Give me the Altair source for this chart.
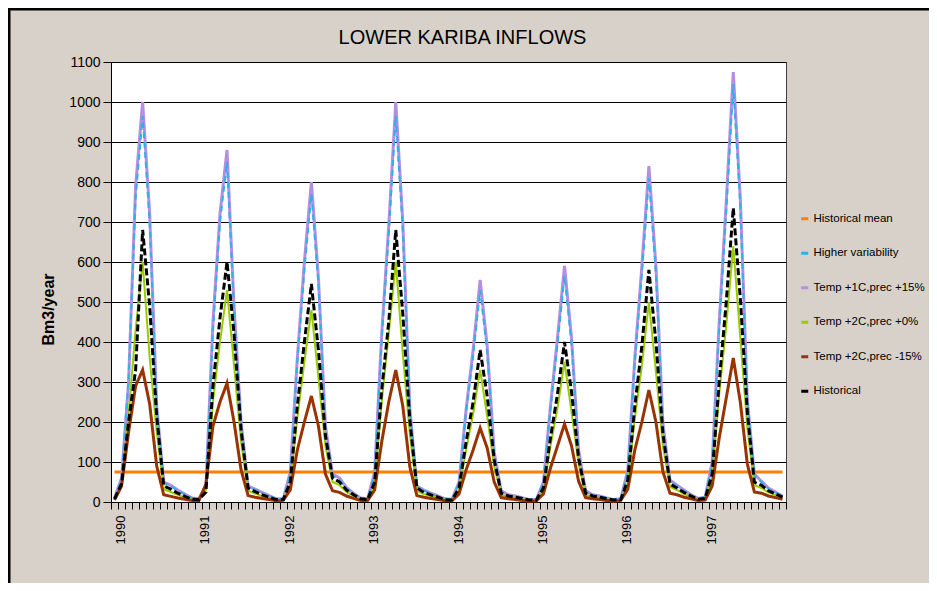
import altair as alt
import pandas as pd

YEARS = ["1990", "1991", "1992", "1993", "1994", "1995", "1996", "1997"]
SERIES = ["Historical mean", "Higher variability", "Temp +1C,prec +15%",
          "Temp +2C,prec +0%", "Temp +2C,prec -15%", "Historical"]
COLORS = ["#ff7f00", "#2fb0ec", "#b48ee0", "#99cc00", "#993300", "#000000"]

HIST_MEAN = 75
MEAN_SPAN = [0, 95]

HISTORICAL = [
    8, 45, 200, 330, 680, 490, 215, 40, 32, 22, 14, 7,
    6, 25, 290, 460, 600, 420, 180, 35, 26, 18, 12, 6,
    6, 50, 240, 400, 545, 380, 165, 60, 50, 30, 18, 8,
    6, 50, 280, 450, 680, 470, 205, 35, 24, 18, 12, 6,
    5, 35, 150, 250, 380, 265, 105, 22, 15, 12, 9, 5,
    5, 35, 160, 270, 400, 275, 110, 22, 15, 12, 8, 5,
    6, 55, 240, 390, 580, 400, 170, 45, 35, 24, 15, 7,
    9, 70, 300, 500, 735, 510, 225, 50, 42, 28, 20, 12,
]
TEMP1_P15 = [
    10, 60, 300, 790, 1000, 720, 240, 50, 42, 30, 20, 10,
    8, 40, 450, 720, 880, 490, 200, 40, 32, 24, 16, 8,
    8, 75, 360, 600, 800, 560, 190, 70, 60, 36, 22, 10,
    8, 75, 420, 690, 1000, 700, 235, 40, 30, 22, 15, 8,
    7, 50, 230, 380, 555, 390, 125, 28, 18, 15, 11, 6,
    7, 50, 240, 410, 590, 410, 130, 28, 18, 15, 10, 6,
    8, 80, 360, 590, 840, 590, 195, 55, 42, 30, 18, 9,
    12, 100, 450, 750, 1075, 760, 255, 70, 52, 35, 25, 15,
]
HIGHER_VAR = [
    10, 58, 310, 760, 965, 700, 235, 48, 40, 28, 19, 10,
    8, 40, 430, 700, 850, 480, 195, 38, 30, 22, 15, 8,
    8, 72, 350, 580, 770, 545, 185, 66, 56, 34, 21, 10,
    8, 72, 405, 670, 965, 680, 230, 38, 28, 21, 14, 8,
    7, 48, 225, 365, 530, 375, 120, 26, 17, 14, 10, 6,
    7, 48, 232, 395, 565, 395, 125, 26, 17, 14, 10, 6,
    8, 76, 350, 570, 810, 570, 190, 52, 40, 28, 17, 9,
    12, 96, 435, 725, 1045, 740, 250, 66, 50, 33, 24, 14,
]
TEMP2_P0 = [
    7, 40, 220, 430, 600, 360, 175, 32, 25, 18, 12, 6,
    6, 30, 250, 400, 530, 340, 150, 28, 21, 15, 10, 5,
    5, 45, 210, 350, 480, 310, 140, 50, 42, 25, 15, 7,
    5, 45, 250, 420, 600, 370, 170, 28, 20, 15, 10, 5,
    4, 30, 130, 220, 330, 215, 90, 18, 13, 10, 7, 4,
    4, 30, 140, 235, 350, 225, 95, 18, 13, 10, 7, 4,
    5, 48, 210, 340, 500, 325, 140, 38, 30, 20, 13, 6,
    8, 60, 270, 440, 640, 410, 185, 42, 35, 24, 17, 10,
]
TEMP2_M15 = [
    5, 40, 175, 290, 330, 245, 90, 18, 14, 10, 7, 4,
    4, 45, 190, 250, 297, 200, 80, 16, 12, 9, 6, 3,
    4, 30, 130, 200, 265, 190, 70, 28, 24, 15, 9, 4,
    4, 30, 150, 250, 330, 240, 88, 16, 12, 9, 6, 3,
    3, 20, 80, 130, 185, 135, 50, 11, 8, 6, 4, 2,
    3, 20, 85, 140, 195, 140, 52, 11, 8, 6, 4, 2,
    4, 32, 130, 200, 280, 200, 75, 22, 18, 12, 8, 4,
    5, 40, 160, 260, 360, 250, 95, 25, 22, 15, 11, 7,
]

rows = []
for name, vals in [(SERIES[1], HIGHER_VAR), (SERIES[2], TEMP1_P15),
                   (SERIES[3], TEMP2_P0), (SERIES[4], TEMP2_M15),
                   (SERIES[5], HISTORICAL)]:
    for i, v in enumerate(vals):
        rows.append({"month": i, "value": v, "series": name})
for m in MEAN_SPAN:
    rows.append({"month": m, "value": HIST_MEAN, "series": SERIES[0]})
df = pd.DataFrame(rows)

n_months = len(HISTORICAL)
FONT = "Liberation Sans"

label_arr = "[" + ",".join("'%s'" % y for y in YEARS) + "]"
x_label_expr = ("(datum.value + 0.5) % 12 == 0 ? " + label_arr +
                "[(datum.value + 0.5) / 12] : ''")

x_enc = alt.X(
    "month:Q",
    scale=alt.Scale(domain=[-0.5, n_months - 0.5], nice=False, zero=False),
    axis=alt.Axis(
        values=[k - 0.5 for k in range(n_months + 1)],
        labelExpr=x_label_expr, labelAngle=270, labelOffset=9.5,
        labelFont=FONT, labelFontSize=13, labelColor="black",
        labelPadding=6, tickSize=7, tickColor="black", domainColor="black",
        grid=False, title=None, labelOverlap=False, labelBound=False,
    ),
)
y_enc = alt.Y(
    "value:Q",
    scale=alt.Scale(domain=[0, 1100], nice=False),
    axis=alt.Axis(
        values=list(range(0, 1101, 100)), format="d", grid=True,
        gridColor="black", gridOpacity=1, gridWidth=1, tickSize=8,
        tickColor="black", domainColor="black", labelFont=FONT,
        labelFontSize=14, labelColor="black", labelPadding=3,
        title="Bm3/year", titleFont=FONT, titleFontSize=16,
        titleFontWeight="bold", titleColor="black", titleX=-58, titleY=247,
        titleAngle=270, titleBaseline="alphabetic", titleAlign="center",
    ),
)
color_enc = alt.Color(
    "series:N",
    scale=alt.Scale(domain=SERIES, range=COLORS),
    legend=alt.Legend(
        title=None, orient="none", legendX=688, legendY=151, padding=0,
        symbolType="stroke", symbolSize=49, symbolStrokeWidth=3,
        symbolDash=[1, 0], labelFont=FONT, labelFontSize=11.5,
        labelColor="black", rowPadding=21.5, labelOffset=3, labelLimit=200,
    ),
)


def series_layer(name, **mark):
    return (alt.Chart(df)
            .transform_filter(alt.datum.series == name)
            .mark_line(**mark)
            .encode(x=x_enc, y=y_enc, color=color_enc))


layers = [
    series_layer(SERIES[0], strokeWidth=3),
    series_layer(SERIES[2], strokeWidth=3),
    series_layer(SERIES[1], strokeWidth=2, strokeDash=[6, 4]),
    series_layer(SERIES[3], strokeWidth=2),
    series_layer(SERIES[4], strokeWidth=3),
    series_layer(SERIES[5], strokeWidth=3, strokeDash=[7, 3]),
]

border_df = pd.DataFrame({"k": [0]})
top_border = alt.Chart(border_df).mark_rule(color="black", strokeWidth=3).encode(
    x=alt.value(-103), x2=alt.value(830), y=alt.value(-53))
left_border = alt.Chart(border_df).mark_rule(color="black", strokeWidth=3).encode(
    x=alt.value(-102), y=alt.value(-54), y2=alt.value(530))

chart = alt.layer(*layers, top_border, left_border).properties(
    width=675, height=440,
    title=alt.TitleParams(
        text="LOWER KARIBA INFLOWS", font=FONT, fontSize=20,
        fontWeight="normal", color="black", anchor="middle", dx=14,
        offset=0, dy=57, baseline="alphabetic",
    ),
    autosize=alt.AutoSizeParams(type="none"),
    padding={"left": 103, "top": 54, "right": 143, "bottom": 81},
    background="#d8d1c9",
).configure_view(fill="white", stroke="#404040", strokeWidth=1)

chart.save("out.html", embed_options={"renderer": "svg", "actions": False})
